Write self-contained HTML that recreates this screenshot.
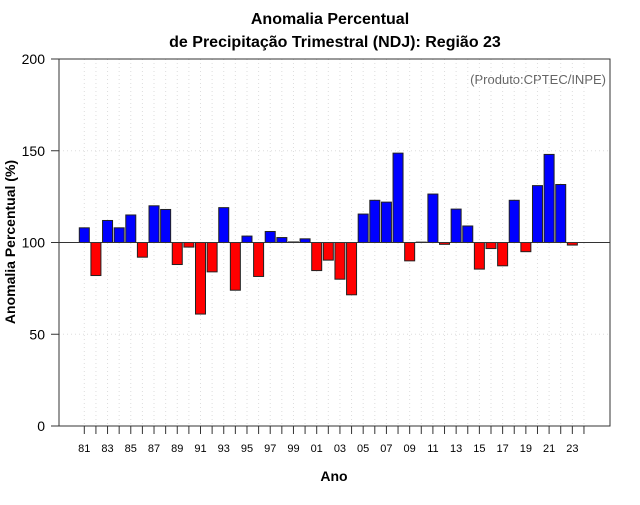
<!DOCTYPE html>
<html><head><meta charset="utf-8"><style>
body{margin:0;background:#fff;font-family:"Liberation Sans",sans-serif}
svg text{font-family:"Liberation Sans",sans-serif}
</style></head><body>
<svg id="chart" width="640" height="500">
<text x="330" y="24" text-anchor="middle" font-size="16" font-weight="bold">Anomalia Percentual</text>
<text x="335" y="47" text-anchor="middle" font-size="16" font-weight="bold">de Precipitação Trimestral (NDJ): Região 23</text>
<text x="606" y="84" text-anchor="end" font-size="13" fill="#666">(Produto:CPTEC/INPE)</text>
<text x="334" y="481" text-anchor="middle" font-size="14" font-weight="bold">Ano</text>
<text transform="translate(15,242) rotate(-90)" text-anchor="middle" font-size="14" font-weight="bold">Anomalia Percentual (%)</text>
<g id="grid"></g><g id="bars"></g><g id="axes"></g>
</svg>
<script>
const years=[1981,1982,1983,1984,1985,1986,1987,1988,1989,1990,1991,1992,1993,1994,1995,1996,1997,1998,1999,2000,2001,2002,2003,2004,2005,2006,2007,2008,2009,2010,2011,2012,2013,2014,2015,2016,2017,2018,2019,2020,2021,2022,2023];
const values=[108,82,112,108,115,92,120,118,88,97.5,61,84,119,74,103.5,81.5,106,102.7,100.3,102,84.7,90.4,80,71.5,115.5,123,122,148.7,90,100.2,126.4,99,118.2,109,85.5,96.7,87.3,123,95,131,148,131.6,98.6];
const yTicks=[0,50,100,150,200];
const ns="http://www.w3.org/2000/svg";
const L=59,R=610,T=59,B=426;
const x=yr=>84.3+(yr-1981)*11.62;
const y=v=>B-(v/200)*(B-T);
function mk(tag,attrs,parent){const e=document.createElementNS(ns,tag);for(const k in attrs)e.setAttribute(k,attrs[k]);document.getElementById(parent).appendChild(e);return e;}
for(let yr=1981;yr<=2024;yr++){
 const g=mk('line',{x1:x(yr),x2:x(yr),y1:T,y2:B,stroke:'#ddd','stroke-dasharray':'1,3'},'grid');
 
 
 const t=mk('line',{x1:x(yr),x2:x(yr),y1:B,y2:B+8,stroke:'#333'},'axes');
 
 
 if(yr%2===1&&yr<=2023){
  const l=mk('text',{x:x(yr),y:452,'text-anchor':'middle','font-size':'11'},'axes');l.textContent=String(yr%100).padStart(2,'0');
  
  
 }
}
yTicks.forEach(v=>{
 if(v>0&&v<200){const g=mk('line',{x1:L,x2:R,y1:y(v),y2:y(v),stroke:'#ddd','stroke-dasharray':'1,3'},'grid');
 
 }
 const t=mk('line',{x1:L-8,x2:L,y1:y(v),y2:y(v),stroke:'#333'},'axes');
 
 
 const l=mk('text',{x:L-14,y:y(v)+5,'text-anchor':'end','font-size':'14'},'axes');l.textContent=v;
 
 
});
years.forEach((yr,i)=>{
 const v=values[i];const top=Math.min(y(v),y(100)),h=Math.abs(y(v)-y(100));
 const b=mk('rect',{x:x(yr)-5,y:top,width:10,height:h,fill:v>=100?'#0000ff':'#ff0000',stroke:'#222','stroke-width':1},'bars');
 
 
});
const bl=mk('line',{x1:L,x2:R,y1:y(100),y2:y(100),stroke:'#333'},'axes');


const box=mk('rect',{x:L,y:T,width:R-L,height:B-T,fill:'none',stroke:'#333'},'axes');


</script>
</body></html>
